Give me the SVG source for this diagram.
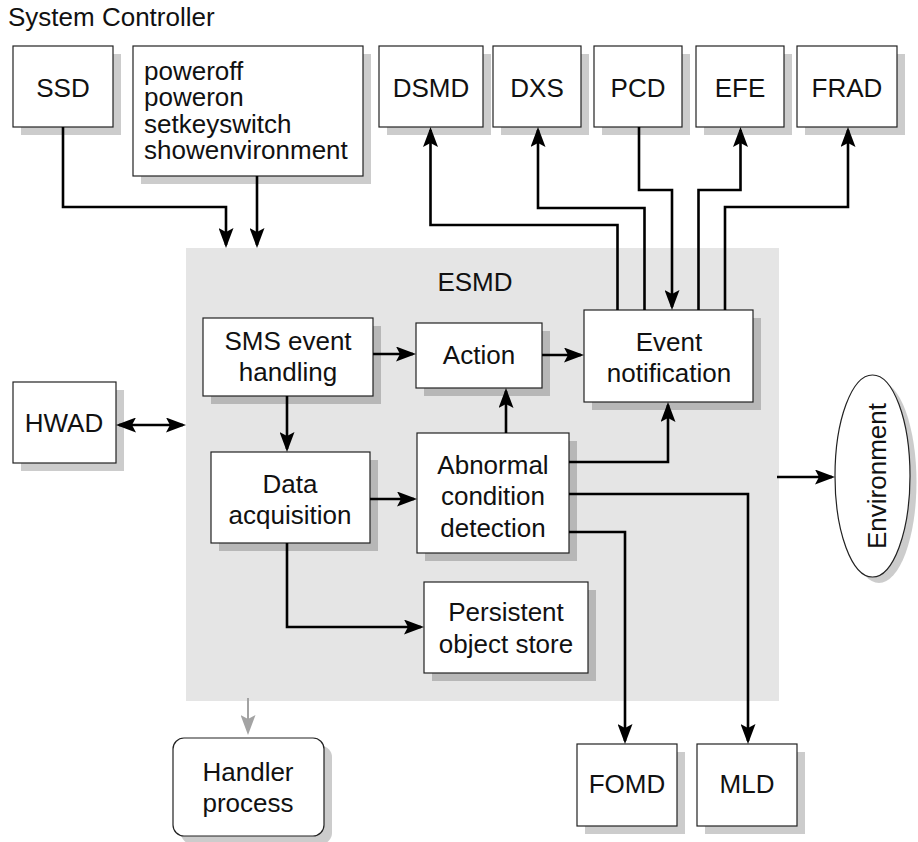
<svg xmlns="http://www.w3.org/2000/svg" width="918" height="842" viewBox="0 0 918 842">
<style>
text{font-family:"Liberation Sans",Arial,sans-serif;font-size:26px;fill:#111}
.c{text-anchor:middle}
.box{fill:#fff;stroke:#222;stroke-width:1.2}
.sh{fill:#000;fill-opacity:0.2}
.ln{fill:none;stroke:#000;stroke-width:2.6;marker-end:url(#ah)}
.gl{fill:none;stroke:#a3a3a3;stroke-width:2;marker-end:url(#ahg)}
</style>
<defs>
<marker id="ah" markerUnits="userSpaceOnUse" markerWidth="20" markerHeight="15" refX="17" refY="7.5" orient="auto-start-reverse" viewBox="0 0 20 15"><path d="M0,0 L20,7.5 L0,15 L4,7.5 Z" fill="#000"/></marker>
<marker id="ahg" markerUnits="userSpaceOnUse" markerWidth="20" markerHeight="15" refX="17" refY="7.5" orient="auto" viewBox="0 0 20 15"><path d="M0,0 L20,7.5 L0,15 L4,7.5 Z" fill="#a3a3a3"/></marker>
</defs>
<rect width="918" height="842" fill="#fff"/>
<text x="8" y="26">System Controller</text>
<g id="esmd"><rect x="186" y="248" width="593" height="453" fill="#e5e5e5"/><text class="c" x="475" y="291">ESMD</text></g>
<g id="ssd"><rect class="sh" x="21" y="54" width="100" height="81"/><rect class="box" x="13" y="46" width="100" height="81"/><text class="c" x="63" y="97">SSD</text></g>
<g id="commands"><rect class="sh" x="141" y="54" width="230" height="130"/><rect class="box" x="133" y="46" width="230" height="130"/><text x="144" y="80"><tspan x="144" y="80">poweroff</tspan><tspan x="144" y="106">poweron</tspan><tspan x="144" y="132.5">setkeyswitch</tspan><tspan x="144" y="159">showenvironment</tspan></text></g>
<g id="dsmd"><rect class="sh" x="387" y="54" width="104" height="81"/><rect class="box" x="379" y="46" width="104" height="81"/><text class="c" x="431" y="97">DSMD</text></g>
<g id="dxs"><rect class="sh" x="501" y="54" width="88" height="81"/><rect class="box" x="493" y="46" width="88" height="81"/><text class="c" x="537" y="97">DXS</text></g>
<g id="pcd"><rect class="sh" x="602" y="54" width="88" height="81"/><rect class="box" x="594" y="46" width="88" height="81"/><text class="c" x="638" y="97">PCD</text></g>
<g id="efe"><rect class="sh" x="704" y="54" width="88" height="81"/><rect class="box" x="696" y="46" width="88" height="81"/><text class="c" x="740" y="97">EFE</text></g>
<g id="frad"><rect class="sh" x="805" y="54" width="100" height="81"/><rect class="box" x="797" y="46" width="100" height="81"/><text class="c" x="847" y="97">FRAD</text></g>
<g id="hwad"><rect class="sh" x="21" y="390" width="103" height="81"/><rect class="box" x="13" y="382" width="103" height="81"/><text class="c" x="64" y="432">HWAD</text></g>
<g id="sms"><rect class="sh" x="211" y="326" width="170" height="78"/><rect class="box" x="203" y="318" width="170" height="78"/><text class="c" x="288" y="350">SMS event</text><text class="c" x="288" y="381">handling</text></g>
<g id="action"><rect class="sh" x="424" y="331" width="126" height="65"/><rect class="box" x="416" y="323" width="126" height="65"/><text class="c" x="479" y="364">Action</text></g>
<g id="event"><rect class="sh" x="592" y="318" width="169" height="92"/><rect class="box" x="584" y="310" width="169" height="92"/><text class="c" x="669" y="351">Event</text><text class="c" x="669" y="382">notification</text></g>
<g id="data"><rect class="sh" x="219" y="460" width="159" height="91"/><rect class="box" x="211" y="452" width="159" height="91"/><text class="c" x="290" y="493">Data</text><text class="c" x="290" y="524">acquisition</text></g>
<g id="abnormal"><rect class="sh" x="425" y="441" width="152" height="120"/><rect class="box" x="417" y="433" width="152" height="120"/><text class="c" x="493" y="474">Abnormal</text><text class="c" x="493" y="505">condition</text><text class="c" x="493" y="537">detection</text></g>
<g id="persistent"><rect class="sh" x="432" y="590" width="164" height="91"/><rect class="box" x="424" y="582" width="164" height="91"/><text class="c" x="506" y="621">Persistent</text><text class="c" x="506" y="653">object store</text></g>
<g id="handler"><rect class="sh" x="181" y="746" width="151" height="98" rx="11"/><rect class="box" x="173" y="738" width="151" height="98" rx="11"/><text class="c" x="248" y="781">Handler</text><text class="c" x="248" y="812">process</text></g>
<g id="fomd"><rect class="sh" x="585" y="752" width="100" height="82"/><rect class="box" x="577" y="744" width="100" height="82"/><text class="c" x="627" y="793">FOMD</text></g>
<g id="mld"><rect class="sh" x="705" y="752" width="100" height="82"/><rect class="box" x="697" y="744" width="100" height="82"/><text class="c" x="747" y="793">MLD</text></g>
<g id="environment"><ellipse class="sh" cx="879" cy="482" rx="37.5" ry="101"/><ellipse class="box" cx="872.5" cy="476" rx="37.5" ry="101"/><text class="c" transform="translate(886,476) rotate(-90)">Environment</text></g>
<g id="connectors">
<path class="ln" d="M63,127 V207 H226 V245"/>
<path class="ln" d="M257,176 V245"/>
<path class="ln" d="M617.5,310 V225 H430.5 V130"/>
<path class="ln" d="M644.5,310 V208 H538 V130"/>
<path class="ln" d="M639,127 V190 H672 V307"/>
<path class="ln" d="M698.5,310 V190 H740.5 V130"/>
<path class="ln" d="M725,310 V207 H848 V130"/>
<path class="ln" style="marker-start:url(#ah)" d="M119,425 H183"/>
<path class="ln" d="M373,354 H413"/>
<path class="ln" d="M287,396 V449"/>
<path class="ln" d="M542,355 H581"/>
<path class="ln" d="M506,433 V391"/>
<path class="ln" d="M370,499 H414"/>
<path class="ln" d="M569,462 H668 V405"/>
<path class="ln" d="M569,494 H748 V741"/>
<path class="ln" d="M569,532 H625 V741"/>
<path class="ln" d="M287,543 V627 H421"/>
<path class="ln" d="M777,477 H832"/>
<path class="gl" d="M248,698 V732"/>
</g>
</svg>
